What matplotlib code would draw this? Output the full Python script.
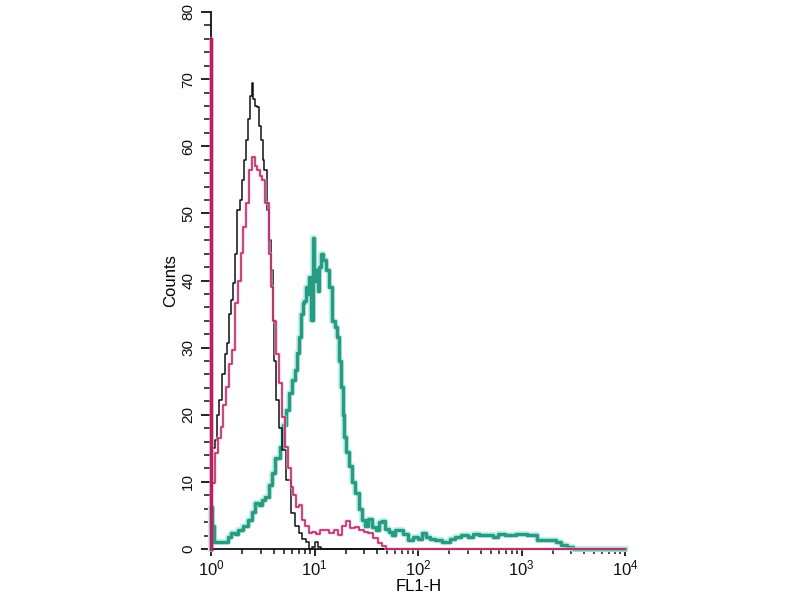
import numpy as np
import matplotlib
matplotlib.use("Agg")
import matplotlib.pyplot as plt
from matplotlib.ticker import MultipleLocator, LogLocator, NullFormatter

plt.rcParams['font.family'] = ['Liberation Sans', 'DejaVu Sans']
plt.rcParams['mathtext.fontset'] = 'custom'
plt.rcParams['mathtext.rm'] = 'Liberation Sans'
plt.rcParams['mathtext.it'] = 'Liberation Sans'

# FL1-H positions given as log10 exponents (decades), counts
black_log = [0.0, 0.0, 0.019, 0.048, 0.068, 0.087, 0.116, 0.145, 0.167, 0.184, 0.200,
             0.215, 0.242, 0.264, 0.290, 0.309, 0.329, 0.348, 0.367, 0.386, 0.396,
             0.415, 0.435, 0.457, 0.473, 0.490, 0.502, 0.522, 0.554, 0.570, 0.586,
             0.602, 0.618, 0.635, 0.667, 0.699, 0.747, 0.795, 0.831, 0.860, 0.899,
             0.937, 0.957, 0.986, 1.021, 1.043, 1.072, 4.0]
black_cnt = [0, 48, 15, 16.2, 20, 22.2, 26, 29, 30.7, 35, 37.1,
             39.6, 44, 50.5, 52, 55, 58, 61, 64, 67.5, 69.4,
             67, 66, 65.9, 63, 61, 58, 56.5, 50.5, 46, 41.6,
             34.1, 28, 22.2, 18, 14.8, 10.3, 5.4, 3.5, 2.4, 1.5,
             1.0, 0, 0.3, 1.1, 0.3, 0, 0]

magenta_log = [0.0, 0.0, 0.022, 0.055, 0.077, 0.103, 0.126, 0.152, 0.184, 0.215, 0.248,
               0.271, 0.297, 0.319, 0.345, 0.377, 0.409, 0.435, 0.457, 0.483, 0.505,
               0.538, 0.570, 0.586, 0.609, 0.638, 0.667, 0.699, 0.731, 0.754, 0.780,
               0.802, 0.828, 0.860, 0.889, 0.925, 0.957, 0.995, 1.034, 1.072, 1.118,
               1.159, 1.208, 1.246, 1.285, 1.327, 1.362, 1.408, 1.449, 1.498, 1.536,
               1.585, 1.633, 1.671, 1.710, 4.0]
magenta_cnt = [0, 76, 9.8, 14.3, 16.5, 18.2, 21.5, 24.2, 27.5, 29.7, 36.7,
               40, 44.1, 48, 51.6, 56.5, 58.4, 57, 56.5, 55.5, 55,
               51.5, 44, 39, 34, 29, 24.7, 19.7, 15.2, 12, 9.3,
               8, 6.3, 6.5, 4.3, 3.5, 2.4, 2.6, 2.2, 2.8, 2.8,
               2.4, 2.8, 2.1, 3.4, 4.1, 3.2, 3.3, 2.8, 2.6, 2.4,
               1.6, 0.9, 0.5, 0, 0]

teal_log = [0.0, 0.0, 0.019, 0.039, 0.087, 0.145, 0.174, 0.213, 0.242, 0.280, 0.329,
            0.377, 0.406, 0.442, 0.473, 0.502, 0.538, 0.570, 0.602, 0.638, 0.683,
            0.705, 0.731, 0.763, 0.795, 0.821, 0.841, 0.860, 0.879, 0.892, 0.908,
            0.925, 0.937, 0.952, 0.973, 0.988, 1.005, 1.021, 1.039, 1.053, 1.070,
            1.092, 1.118, 1.150, 1.182, 1.208, 1.230, 1.246, 1.263, 1.278, 1.295,
            1.319, 1.343, 1.372, 1.408, 1.440, 1.471, 1.498, 1.536, 1.568, 1.614,
            1.633, 1.665, 1.700, 1.729, 1.758, 1.787, 1.826, 1.874, 1.923, 1.971,
            2.019, 2.051, 2.097, 2.135, 2.181, 2.277, 2.329, 2.374, 2.454, 2.502,
            2.551, 2.628, 2.696, 2.744, 2.792, 2.889, 2.986, 3.114, 3.179, 3.304,
            3.353, 3.401, 3.469, 3.517, 4.0]
teal_cnt = [0, 6.3, 3.5, 1.1, 1.1, 1.1, 1.8, 2.4, 2.2, 2.8, 3.5,
            4.3, 5.5, 6.8, 6.5, 7.3, 7.8, 9.5, 11.3, 13.5, 15.2,
            18.5, 20.7, 23.2, 25.2, 26.7, 29.2, 31.6, 35, 36.6, 37,
            39.1, 38, 40.5, 34.1, 46.3, 40, 41.6, 38.5, 42, 44,
            43, 41.6, 39, 34, 33, 31.6, 28, 24.2, 20, 16.7,
            14.5, 12.3, 10, 8.3, 6, 4.3, 3.5, 4.5, 3.3, 2.8,
            4, 4.1, 3, 2.6, 2.1, 2.8, 2.8, 2.2, 1.3, 1.8,
            1.5, 2.4, 1.8, 1.5, 1.3, 1.1, 1.5, 1.8, 2.1, 1.8,
            2.3, 2.1, 2.1, 1.8, 2.3, 2.1, 2.3, 2.1, 1.3, 1.3,
            1.0, 0.6, 0.3, 0, 0]

x_ticks = [1, 10, 100, 1000, 10000]
x_ticklabels = ['$10^0$', '$10^1$', '$10^2$', '$10^3$', '$10^4$']
y_ticks = [0, 10, 20, 30, 40, 50, 60, 70, 80]

fig = plt.figure(figsize=(8, 6), dpi=100)
ax = fig.add_axes([0.264, 0.085, 0.5175, 0.895])

def xs(lg):
    return 10 ** np.asarray(lg)

ds = 'steps-mid'
ax.plot(xs(teal_log), teal_cnt, drawstyle=ds, color='#c2f2ec', lw=4.5, clip_on=False, zorder=2)
ax.plot(xs(teal_log), teal_cnt, drawstyle=ds, color='#2a9a80', lw=2.5, clip_on=False, zorder=3)
ax.plot(xs(black_log), black_cnt, drawstyle=ds, color='#111111', lw=1.1, clip_on=False, zorder=4)
ax.plot(xs(magenta_log), magenta_cnt, drawstyle=ds, color='#f5c0dc', lw=2.6, clip_on=False, zorder=4.5, alpha=0.6)
ax.plot(xs(magenta_log), magenta_cnt, drawstyle=ds, color='#b8205e', lw=1.1, clip_on=False, zorder=5)
# thick first-channel bar
ax.plot([1, 1], [0, magenta_cnt[1]], color='#b8205e', lw=2.5, clip_on=False, zorder=5)

ax.set_xscale('log')
ax.set_xlim(1, 10000)
ax.set_ylim(0, 80)
ax.set_xticks(x_ticks)
ax.set_xticklabels(x_ticklabels, fontsize=12)
ax.xaxis.set_minor_locator(LogLocator(base=10, subs=np.arange(2, 10)))
ax.xaxis.set_minor_formatter(NullFormatter())
ax.set_yticks(y_ticks)
ax.set_yticklabels([str(v) for v in y_ticks], rotation=90, va='center', fontsize=11)
ax.yaxis.set_minor_locator(MultipleLocator(2))

for s in ['top', 'right']:
    ax.spines[s].set_visible(False)
for s in ['left', 'bottom']:
    ax.spines[s].set_linewidth(1.3)
    ax.spines[s].set_color('#111111')

ax.tick_params(axis='y', which='major', direction='out', length=7.5, width=1.3, colors='#111111', pad=4)
ax.tick_params(axis='y', which='minor', direction='out', length=4.8, width=1.1, colors='#111111')
ax.tick_params(axis='x', which='major', direction='out', length=5, width=1.3, colors='#111111', pad=2)
ax.tick_params(axis='x', which='minor', direction='out', length=3.5, width=1.1, colors='#111111')

ax.set_xlabel('FL1-H', fontsize=12, labelpad=0)
ax.set_ylabel('Counts', fontsize=12, labelpad=2)

fig.savefig('out.png', dpi=100)
